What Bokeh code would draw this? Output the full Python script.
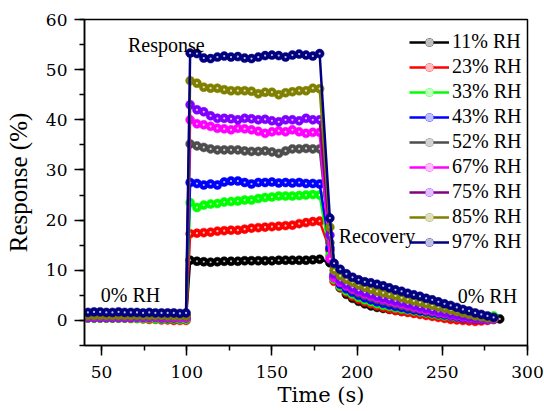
import math
from bokeh.plotting import figure
from bokeh.models import Label, Legend, LegendItem, SingleIntervalTicker, ColumnDataSource, Title
from bokeh.embed import file_html
from bokeh.resources import INLINE

# ---------------- data ----------------
labels = ["11% RH", "23% RH", "33% RH", "43% RH", "52% RH", "67% RH", "75% RH", "85% RH", "97% RH"]
line_colors = ["#000000", "#FF0000", "#00FF00", "#0000FF", "#4D4D4D", "#FF00FF", "#800080", "#808000", "#000080"]
marker_colors = ["#000000", "#FF0000", "#00FF00", "#0000FF", "#4D4D4D", "#FF00FF", "#8000FF", "#808000", "#000080"]

base_t = [42, 45.6, 49.2, 52.8, 56.4, 60, 63.6, 67.2, 70.8, 74.4, 78, 81.6, 85.2, 88.8, 92.4, 96, 99.6]
plat_t = [102, 106, 110, 114, 118, 122, 126, 130, 134, 138, 142, 146, 150, 154, 158, 162, 166, 170, 174, 178]
rec_t = [184, 186.5, 190.1, 193.7, 197.3, 200.9, 204.5, 208.1, 211.7, 215.3, 218.9, 222.5, 226.1, 229.7,
         233.3, 236.9, 240.5, 244.1, 247.7, 251.3, 254.9, 258.5, 262.1, 265.7, 269.3, 272.9, 276.5, 280.1]
extra_t_11 = [283.7]

base_11 = [0.5, 0.5, 0.5, 0.5, 0.5, 0.5, 0.5, 0.5, 0.5, 0.5, 0.5, 0.5, 0.5, 0.4, 0.4, 0.4, 0.4]
plat_11 = [12.0, 11.8, 11.7, 11.6, 11.7, 11.8, 11.8, 11.8, 11.9, 11.9, 11.9, 11.9, 11.9, 12.0, 12.0, 12.0, 12.0, 12.0, 12.1, 12.2]
rec_11 = [11.5, 8.5, 6.5, 5.2, 4.4, 3.8, 3.3, 2.9, 2.6, 2.4, 2.2, 2.0, 1.8, 1.7, 1.5, 1.4, 1.2, 1.1, 1.0, 0.9,
          0.8, 0.7, 0.6, 0.5, 0.4, 0.4, 0.3, 0.3]
extra_11 = [0.3]

base_23 = [0.5, 0.5, 0.5, 0.5, 0.5, 0.5, 0.5, 0.4, 0.4, 0.3, 0.2, 0.2, 0.1, 0.1, 0.0, 0.0, 0.0]
plat_23 = [17.3, 17.4, 17.5, 17.6, 17.8, 17.9, 18.0, 18.0, 18.2, 18.4, 18.5, 18.6, 18.7, 18.8, 18.9, 19.0, 19.3, 19.5, 19.7, 19.8]
rec_23 = [14.0, 7.8, 6.6, 5.6, 4.8, 4.2, 3.7, 3.3, 2.9, 2.6, 2.3, 2.0, 1.8, 1.6, 1.4, 1.2, 1.0, 0.8, 0.6, 0.4,
          0.2, 0.1, 0.0, -0.1, -0.2, -0.1, 0.0, 0.2]

base_33 = [0.5, 0.5, 0.5, 0.5, 0.5, 0.5, 0.5, 0.5, 0.4, 0.4, 0.4, 0.3, 0.3, 0.3, 0.3, 0.2, 0.2]
plat_33 = [23.5, 22.5, 23.0, 23.2, 23.3, 23.6, 23.7, 23.8, 24.0, 24.0, 24.3, 24.5, 24.6, 24.8, 24.8, 24.8, 24.9, 25.0, 25.1, 25.0]
rec_33 = [13.0, 8.2, 6.8, 5.9, 5.2, 4.6, 4.1, 3.7, 3.3, 3.0, 2.8, 2.5, 2.3, 2.1, 1.9, 1.7, 1.5, 1.3, 1.1, 0.9,
          0.8, 0.6, 0.5, 0.4, 0.4, 0.5, 0.7, 0.9]

base_43 = [0.6, 0.6, 0.6, 0.6, 0.6, 0.6, 0.6, 0.6, 0.6, 0.6, 0.6, 0.6, 0.5, 0.5, 0.5, 0.5, 0.5]
plat_43 = [27.5, 27.3, 27.0, 27.2, 27.0, 27.6, 27.8, 27.8, 27.5, 27.2, 27.5, 27.5, 27.6, 27.4, 27.5, 27.4, 27.5, 27.3, 27.3, 27.2]
rec_43 = [14.5, 8.6, 7.2, 6.3, 5.6, 5.0, 4.5, 4.1, 3.7, 3.4, 3.1, 2.8, 2.6, 2.3, 2.1, 1.9, 1.7, 1.5, 1.3, 1.1,
          0.9, 0.7, 0.5, 0.4, 0.3, 0.2, 0.2, 0.3]

base_52 = [0.8, 0.8, 0.8, 0.8, 0.8, 0.8, 0.8, 0.8, 0.8, 0.8, 0.8, 0.7, 0.7, 0.7, 0.7, 0.7, 0.7]
plat_52 = [35.2, 34.8, 34.5, 34.2, 34.0, 34.0, 34.0, 34.0, 33.8, 33.7, 33.7, 33.8, 33.6, 33.3, 33.8, 34.2, 34.2, 34.3, 34.2, 34.2]
rec_52 = [15.5, 9.0, 7.7, 6.8, 6.1, 5.5, 5.0, 4.6, 4.2, 3.9, 3.6, 3.3, 3.0, 2.7, 2.4, 2.2, 1.9, 1.7, 1.5, 1.3,
          1.1, 0.9, 0.7, 0.5, 0.4, 0.3, 0.3, 0.3]

base_67 = [0.7, 0.7, 0.7, 0.7, 0.7, 0.7, 0.7, 0.7, 0.7, 0.7, 0.7, 0.7, 0.6, 0.6, 0.6, 0.5, 0.5]
plat_67 = [40.0, 39.2, 39.0, 38.7, 38.3, 38.2, 38.0, 38.3, 38.2, 38.0, 37.7, 37.3, 37.6, 37.8, 37.6, 38.0, 37.6, 37.3, 37.5, 37.5]
rec_67 = [12.3, 8.5, 7.6, 6.9, 6.3, 5.8, 5.3, 4.9, 4.5, 4.2, 3.9, 3.6, 3.3, 3.0, 2.7, 2.4, 2.1, 1.9, 1.6, 1.4,
          1.1, 0.9, 0.7, 0.5, 0.4, 0.3, 0.2, 0.2]

base_75 = [0.9, 0.9, 0.9, 0.9, 0.9, 0.9, 0.9, 0.9, 0.9, 0.9, 0.9, 0.9, 0.8, 0.8, 0.8, 0.8, 0.8]
plat_75 = [43.0, 42.0, 41.6, 40.8, 40.3, 40.3, 40.2, 40.0, 40.3, 40.2, 40.0, 40.1, 39.8, 39.6, 40.0, 40.0, 39.8, 40.3, 40.0, 40.0]
rec_75 = [17.0, 9.2, 8.0, 7.2, 6.6, 6.0, 5.6, 5.2, 4.8, 4.5, 4.2, 3.9, 3.6, 3.3, 3.0, 2.7, 2.4, 2.1, 1.8, 1.6,
          1.3, 1.1, 0.9, 0.7, 0.5, 0.4, 0.3, 0.3]

base_85 = [1.0, 1.0, 1.0, 1.0, 1.0, 1.0, 1.0, 1.0, 1.0, 1.0, 1.0, 1.0, 1.0, 0.9, 0.9, 0.9, 0.9]
plat_85 = [47.8, 47.3, 46.5, 46.3, 46.3, 46.0, 45.8, 45.8, 45.8, 45.7, 45.2, 45.5, 45.5, 45.0, 45.4, 45.6, 45.8, 45.8, 46.3, 46.2]
rec_85 = [18.6, 10.0, 8.9, 8.2, 7.6, 7.1, 6.6, 6.2, 5.8, 5.5, 5.2, 4.9, 4.5, 4.2, 3.9, 3.6, 3.3, 3.0, 2.7, 2.4,
          2.1, 1.8, 1.5, 1.2, 0.9, 0.7, 0.5, 0.4]

base_97 = [1.6, 1.7, 1.7, 1.6, 1.6, 1.7, 1.6, 1.6, 1.6, 1.5, 1.6, 1.5, 1.5, 1.5, 1.5, 1.4, 1.5]
plat_97 = [53.3, 53.2, 52.3, 52.2, 52.5, 52.7, 52.5, 52.6, 52.3, 52.2, 52.5, 52.8, 52.9, 52.8, 52.5, 52.9, 53.1, 52.9, 52.7, 53.2]
rec_97 = [20.4, 11.4, 10.2, 9.3, 8.6, 8.1, 7.7, 7.5, 7.2, 6.9, 6.5, 6.1, 5.8, 5.4, 5.1, 4.8, 4.4, 4.1, 3.7, 3.3,
          3.0, 2.6, 2.2, 1.9, 1.5, 1.2, 0.9, 0.6]

x_ticks_interval = 50
y_ticks_interval = 10

series = [
    (base_11, plat_11, rec_11 + extra_11, rec_t + extra_t_11),
    (base_23, plat_23, rec_23, rec_t),
    (base_33, plat_33, rec_33, rec_t),
    (base_43, plat_43, rec_43, rec_t),
    (base_52, plat_52, rec_52, rec_t),
    (base_67, plat_67, rec_67, rec_t),
    (base_75, plat_75, rec_75, rec_t),
    (base_85, plat_85, rec_85, rec_t),
    (base_97, plat_97, rec_97, rec_t),
]

FONT = "Times"
QFONT = "'Liberation Serif'"
SVGFONT = "DejaVu Serif"

p = figure(width=544, height=411, x_range=(40, 300), y_range=(-5, 60),
           output_backend="svg", toolbar_location=None,
           min_border_left=84, min_border_right=17, min_border_top=19, min_border_bottom=66)
p.xgrid.visible = False
p.ygrid.visible = False
p.outline_line_color = "black"
p.outline_line_width = 1.5
p.background_fill_color = "white"
p.border_fill_color = "white"

for ax in (p.xaxis[0], p.yaxis[0]):
    ax.axis_line_width = 1.5
    ax.axis_line_color = "black"
    ax.major_tick_line_color = "black"
    ax.minor_tick_line_color = "black"
    ax.major_tick_line_width = 1.5
    ax.minor_tick_line_width = 1.5
    ax.major_tick_in = 0
    ax.major_tick_out = 10
    ax.minor_tick_in = 0
    ax.minor_tick_out = 5
    ax.major_label_text_font = SVGFONT
    ax.major_label_text_font_size = "17px"
    ax.major_label_text_color = "black"
p.xaxis[0].ticker = SingleIntervalTicker(interval=x_ticks_interval, num_minor_ticks=2)
p.yaxis[0].ticker = SingleIntervalTicker(interval=y_ticks_interval, num_minor_ticks=2)
p.xaxis[0].major_label_standoff = 10
p.yaxis[0].major_label_standoff = 7

# y-axis title
p.yaxis[0].axis_label = "Response (%)"
p.yaxis[0].axis_label_text_font = FONT
p.yaxis[0].axis_label_text_font_size = "25px"
p.yaxis[0].axis_label_text_font_style = "normal"
p.yaxis[0].axis_label_text_color = "black"
p.yaxis[0].axis_label_standoff = 11

# x-axis title as a below-panel title
xtitle = Title(text="Time (s)", align="left", offset=193, standoff=0,
               text_font=SVGFONT, text_font_size="21px", text_font_style="normal",
               text_color="black", vertical_align="bottom")
p.add_layout(xtitle, "below")

items = []
for (b, pl, r, rt), lab, lc, mc in zip(series, labels, line_colors, marker_colors):
    src = ColumnDataSource(dict(x=base_t + plat_t + rt, y=b + pl + r))
    ln = p.line("x", "y", source=src, line_color=lc, line_width=2.5)
    sc = p.scatter("x", "y", source=src, marker="circle", size=9,
                   fill_color=mc, line_color=mc, line_width=0.5)
    hl = p.scatter("x", "y", source=src, marker="circle", size=2.2,
                   fill_color="white", fill_alpha=0.75, line_color=None)
    items.append(LegendItem(label=lab, renderers=[ln, sc, hl]))

legend = Legend(items=items, location=(325, 92), glyph_width=40, glyph_height=20,
                label_height=20, spacing=2, padding=0, margin=0, label_standoff=3,
                label_text_font=QFONT, label_text_font_size="20px", label_text_color="black",
                background_fill_alpha=0, border_line_color=None,
                label_text_baseline="middle")
p.add_layout(legend)

def add_text(x, y, text, size="20px", **kw):
    p.add_layout(Label(x=x, y=y, text=text, text_font=FONT, text_font_size=size,
                       text_color="black", **kw))

add_text(65.5, 55.0, "Response", text_baseline="alphabetic")
add_text(49.6, 5.0, "0% RH", text_baseline="alphabetic")
add_text(259, 4.8, "0% RH", text_baseline="alphabetic")
add_text(189.2, 16.9, "Recovery", text_baseline="alphabetic")

open("out.html", "w").write(file_html(p, INLINE))
